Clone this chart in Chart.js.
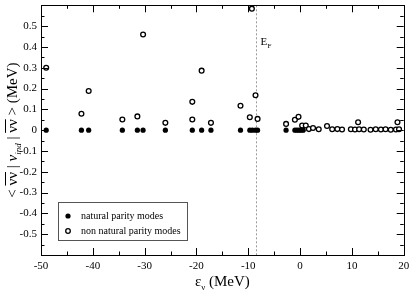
<!DOCTYPE html>
<html>
<head>
<meta charset="utf-8">
<script src="https://cdn.jsdelivr.net/npm/chart.js@4/dist/chart.umd.min.js"></script>
<style>
  html, body { margin: 0; padding: 0; background: #fff; }
  #wrap { width: 409px; height: 294px; }
</style>
</head>
<body>
<div id="wrap"><canvas id="grafica"></canvas></div>
<script>
// natural parity modes: all sit at zero
const naturalX = [-49.0, -42.2, -40.8, -34.3, -31.4, -30.3, -26.0, -20.8, -19.0, -17.2,
  -11.5, -9.7, -9.2, -8.6, -8.2, -2.7, -1.0, -0.6, -0.2, 0.2, 0.6];
// non natural parity modes
const nonNaturalX = [-49.0, -42.2, -40.8, -34.3, -31.4, -30.3, -26.0, -20.8, -20.8, -19.0,
  -17.2, -11.5, -9.7, -9.3, -8.6, -8.2, -2.7, -1.0, -0.3, 0.4, 1.1, 1.7, 2.5, 3.6, 5.2,
  6.2, 7.2, 8.1, 9.8, 10.6, 11.2, 11.4, 12.3, 13.6, 14.6, 15.6, 16.5, 17.5, 18.5, 18.8, 19.1];
const nonNaturalY = [0.30, 0.079, 0.188, 0.051, 0.066, 0.46, 0.035, 0.136, 0.051, 0.286,
  0.035, 0.117, 0.062, 0.584, 0.168, 0.054, 0.03, 0.05, 0.064, 0.022, 0.022, 0.005, 0.01, 0.004, 0.02,
  0.004, 0.005, 0.003, 0.004, 0.003, 0.038, 0.004, 0.003, 0.002, 0.004, 0.003, 0.004, 0.002, 0.003, 0.038, 0.004];
const fermiEnergy = -8.6;
const xRange = [-50, 20];
const yRange = [-0.6, 0.6];

const serif = '"Liberation Serif", "DejaVu Serif", serif';

const naturalPts = naturalX.map(x => ({ x: x, y: 0 }));
const nonNaturalPts = nonNaturalX.map((x, i) => ({ x: x, y: nonNaturalY[i] }));

// marcos, ticks hacia dentro, etiquetas y leyenda
const decor = {
  id: 'decor',
  beforeDatasetsDraw(chart) {
    const ctx = chart.ctx, a = chart.chartArea;
    const xs = chart.scales.x;
    const px = xs.getPixelForValue(fermiEnergy);
    ctx.save();
    ctx.strokeStyle = '#9a9a9a';
    ctx.lineWidth = 1;
    ctx.setLineDash([2, 2]);
    ctx.beginPath();
    ctx.moveTo(Math.round(px) + 0.5, a.top);
    ctx.lineTo(Math.round(px) + 0.5, a.bottom);
    ctx.stroke();
    ctx.restore();
  },
  afterDraw(chart) {
    const ctx = chart.ctx, a = chart.chartArea;
    const xs = chart.scales.x, ys = chart.scales.y;
    ctx.save();
    ctx.strokeStyle = '#000';
    ctx.lineWidth = 1;
    ctx.strokeRect(Math.round(a.left) + 0.5, Math.round(a.top) + 0.5,
      Math.round(a.right - a.left), Math.round(a.bottom - a.top));
    ctx.beginPath();
    for (let v = xRange[0]; v <= xRange[1]; v += 5) {
      const p = Math.round(xs.getPixelForValue(v)) + 0.5;
      const len = (v % 10 === 0) ? 7 : 3.5;
      ctx.moveTo(p, a.bottom); ctx.lineTo(p, a.bottom - len);
      ctx.moveTo(p, a.top); ctx.lineTo(p, a.top + len);
    }
    for (let k = -12; k <= 12; k++) {
      const v = k * 0.05;
      const p = Math.round(ys.getPixelForValue(v)) + 0.5;
      const len = (k % 2 === 0) ? 7 : 3.5;
      ctx.moveTo(a.left, p); ctx.lineTo(a.left + len, p);
      ctx.moveTo(a.right, p); ctx.lineTo(a.right - len, p);
    }
    ctx.stroke();

    // E_F
    const pf = xs.getPixelForValue(fermiEnergy);
    ctx.fillStyle = '#000';
    ctx.textBaseline = 'alphabetic';
    ctx.font = '11px ' + serif;
    ctx.fillText('E', pf + 5, 45);
    ctx.font = '7px ' + serif;
    ctx.fillText('F', pf + 12, 48);

    // titulo eje x
    const cx = (a.left + a.right) / 2;
    ctx.font = '15px ' + serif;
    const w1 = ctx.measureText('ε').width;
    ctx.font = '9px ' + serif;
    const w2 = ctx.measureText('ν').width;
    ctx.font = '15px ' + serif;
    const w3 = ctx.measureText(' (MeV)').width;
    let sx = cx - (w1 + w2 + w3) / 2;
    ctx.fillText('ε', sx, 286);
    ctx.font = '9px ' + serif;
    ctx.fillText('ν', sx + w1, 290);
    ctx.font = '15px ' + serif;
    ctx.fillText(' (MeV)', sx + w1 + w2, 286);

    // titulo eje y
    ctx.translate(17, (a.top + a.bottom) / 2);
    ctx.rotate(-Math.PI / 2);
    const parts = [
      { t: '< ', f: '15px ' + serif, dy: 0 },
      { t: 'νν', f: '15px ' + serif, dy: 0, bar: true },
      { t: ' | ', f: '15px ' + serif, dy: 0 },
      { t: 'v', f: 'italic 15px ' + serif, dy: 0 },
      { t: 'ind', f: 'italic 9px ' + serif, dy: 4 },
      { t: ' | ', f: '15px ' + serif, dy: 0 },
      { t: 'νν', f: '15px ' + serif, dy: 0, bar: true },
      { t: ' > (MeV)', f: '15px ' + serif, dy: 0 }
    ];
    let tw = 0;
    parts.forEach(p => { ctx.font = p.f; p.w = ctx.measureText(p.t).width; tw += p.w; });
    let tx = -tw / 2;
    parts.forEach(p => {
      ctx.font = p.f;
      ctx.fillText(p.t, tx, p.dy);
      if (p.bar) {
        ctx.beginPath();
        ctx.moveTo(tx, -11.5); ctx.lineTo(tx + p.w, -11.5);
        ctx.stroke();
      }
      tx += p.w;
    });
    ctx.setTransform(1, 0, 0, 1, 0, 0);

    // leyenda
    ctx.fillStyle = '#fff';
    ctx.fillRect(58, 202, 129, 38);
    ctx.strokeStyle = '#555';
    ctx.strokeRect(58.5, 202.5, 129, 38);
    ctx.fillStyle = '#000';
    ctx.beginPath();
    ctx.arc(68, 216, 2.6, 0, Math.PI * 2);
    ctx.fill();
    ctx.strokeStyle = '#000';
    ctx.lineWidth = 1.3;
    ctx.beginPath();
    ctx.arc(68, 231, 2.3, 0, Math.PI * 2);
    ctx.stroke();
    ctx.font = '10px ' + serif;
    ctx.textBaseline = 'middle';
    ctx.fillText('natural parity modes', 81, 216);
    ctx.fillText('non natural parity modes', 81, 231);
    ctx.restore();
  }
};

new Chart(document.getElementById('grafica'), {
  type: 'scatter',
  data: {
    datasets: [
      {
        label: 'non natural parity modes',
        data: nonNaturalPts,
        pointStyle: 'circle',
        pointRadius: 2.4,
        pointBorderWidth: 1.3,
        pointBackgroundColor: '#fff',
        pointBorderColor: '#000'
      },
      {
        label: 'natural parity modes',
        data: naturalPts,
        pointStyle: 'circle',
        pointRadius: 2.6,
        pointBorderWidth: 0,
        pointBackgroundColor: '#000',
        pointBorderColor: '#000'
      }
    ]
  },
  options: {
    responsive: true,
    maintainAspectRatio: false,
    animation: false,
    layout: { padding: { top: 0, right: 4, left: 0, bottom: 0 } },
    plugins: { legend: { display: false }, tooltip: { enabled: false } },
    scales: {
      x: {
        type: 'linear',
        min: xRange[0], max: xRange[1],
        grid: { display: false, drawTicks: false },
        border: { display: false },
        afterFit: s => { s.height = 39; s.paddingLeft = 0; s.paddingRight = 0; },
        afterBuildTicks: s => {
          s.ticks = [];
          for (let v = xRange[0]; v <= xRange[1]; v += 10) s.ticks.push({ value: v });
        },
        ticks: {
          padding: 5,
          maxRotation: 0,
          color: '#000',
          font: { family: serif, size: 11 },
          callback: v => String(v)
        }
      },
      y: {
        type: 'linear',
        min: yRange[0], max: yRange[1],
        grid: { display: false, drawTicks: false },
        border: { display: false },
        afterFit: s => { s.width = 41; s.paddingTop = 0; s.paddingBottom = 0; },
        afterBuildTicks: s => {
          s.ticks = [];
          for (let k = -5; k <= 5; k++) s.ticks.push({ value: k / 10 });
        },
        ticks: {
          padding: 4,
          color: '#000',
          font: { family: serif, size: 11 },
          callback: v => (Math.abs(v) < 1e-9 ? '0' : (Math.round(v * 10) / 10).toString())
        }
      }
    }
  },
  plugins: [decor]
});
</script>
</body>
</html>
